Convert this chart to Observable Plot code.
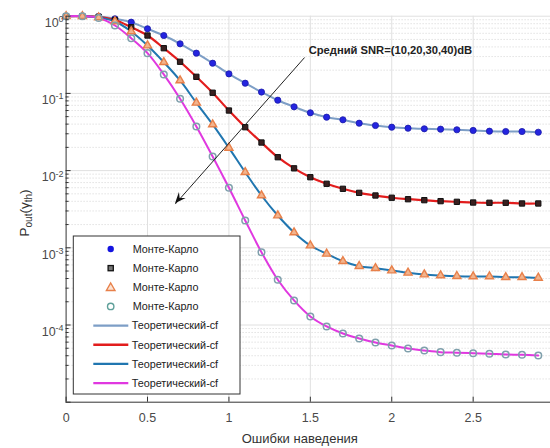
<!DOCTYPE html>
<html><head><meta charset="utf-8">
<script src="https://cdn.jsdelivr.net/npm/d3@7"></script>
<script src="https://cdn.jsdelivr.net/npm/@observablehq/plot@0.6"></script>
<style>body{margin:0;background:#fff;font-family:"Liberation Sans",Arial,sans-serif}</style>
</head><body><div id="chart"></div><script>
// ---- data ----
const errors = [0,0.1,0.2,0.3,0.4,0.5,0.6,0.7,0.8,0.9,1.0,1.1,1.2,1.3,1.4,1.5,1.6,1.7,1.8,1.9,2.0,2.1,2.2,2.3,2.4,2.5,2.6,2.7,2.8,2.9];
const snr10 = [1,1,0.991,0.925,0.836,0.687,0.562,0.439,0.332,0.246,0.179,0.1355,0.104,0.0816,0.067,0.0561,0.0492,0.0455,0.0411,0.0384,0.0365,0.0354,0.0348,0.0344,0.0338,0.0331,0.0324,0.0321,0.0321,0.0314];
const snr20 = [1,1,0.982,0.893,0.72,0.562,0.385,0.257,0.164,0.102,0.060,0.0365,0.0231,0.0149,0.0107,0.00821,0.00675,0.00581,0.00515,0.00476,0.00445,0.00426,0.00414,0.00402,0.00394,0.00386,0.00383,0.00383,0.00375,0.00375];
const snr30 = [1,1,0.962,0.854,0.634,0.417,0.2536,0.147,0.0755,0.0396,0.0197,0.00953,0.00476,0.00262,0.00158,0.00107,0.000836,0.00067,0.000578,0.000544,0.000508,0.000474,0.000451,0.000438,0.000429,0.000425,0.000425,0.000416,0.000416,0.000408];
const snr40 = [1,1,0.948,0.758,0.519,0.332,0.176,0.0851,0.0373,0.01523,0.00599,0.00226,0.000877,0.000385,0.000208,0.000129,0.0000957,0.0000776,0.0000669,0.0000593,0.0000543,0.0000497,0.0000468,0.0000445,0.0000437,0.0000431,0.0000424,0.0000415,0.0000411,0.0000403];
const mcLabel = "Монте-Карло";
const theoryLabel = "Теоретический-cf";
const xTicks = [0,0.5,1,1.5,2,2.5];
const yTicks = [1,0.1,0.01,0.001,0.0001];
const xLabel = "Ошибки наведения";
const annotationText = "Средний SNR=(10,20,30,40)dB";
const annotationPos = [{x:1.49, y:0.36}];
const arrowData = [{x1:1.463, y1:0.289, x2:0.672, y2:0.00372}];

// ---- styles ----
const lineColors = ["#7d9ec6","#e21d1d","#2076b0","#e038e0"];
const series = [snr10, snr20, snr30, snr40];
const rows = [];
series.forEach((s,k)=>s.forEach((v,i)=>rows.push({k, x:errors[i], y:v})));
const sub = k => rows.filter(d=>d.k===k);

const W=550,H=448,mL=65.6,mT=15.7,mB=46.3,mR=0;
const pw=W-mL-mR, ph=H-mT-mB;
const minorY = [];
for (let e=-5;e<0;e++) for (let m=2;m<=9;m++) minorY.push(m*Math.pow(10,e));
const allMajorY = [1,0.1,0.01,0.001,0.0001,0.00001];

const chart = Plot.plot({
  width:W, height:H, marginLeft:mL, marginTop:mT, marginBottom:mB, marginRight:mR,
  style:{fontFamily:'"Liberation Sans",Arial,sans-serif', fontSize:"12.5px", color:"#4a4a4a", background:"#fff", overflow:"visible"},
  x:{domain:[0,2.975]},
  y:{type:"log", domain:[1e-5,1]},
  marks:[
    Plot.ruleY(minorY,{stroke:"#cfcfcf", strokeDasharray:"1,2", strokeWidth:0.9}),
    Plot.ruleY(yTicks,{stroke:"#e0e0e0", strokeWidth:1}),
    Plot.ruleX(xTicks.filter(d=>d>0),{stroke:"#e0e0e0", strokeWidth:1}),
    Plot.line(sub(0),{x:"x",y:"y",stroke:lineColors[0],strokeWidth:2,curve:"catmull-rom"}),
    Plot.line(sub(1),{x:"x",y:"y",stroke:lineColors[1],strokeWidth:2.2,curve:"catmull-rom"}),
    Plot.line(sub(2),{x:"x",y:"y",stroke:lineColors[2],strokeWidth:2,curve:"catmull-rom"}),
    Plot.line(sub(3),{x:"x",y:"y",stroke:lineColors[3],strokeWidth:2,curve:"catmull-rom"}),
    Plot.dot(sub(0),{x:"x",y:"y",r:3.1,fill:"#2424e0",stroke:"#1a1aa8",strokeWidth:0.8}),
    Plot.dot(sub(1),{x:"x",y:"y",r:3,symbol:"square",fill:"#3a2020",stroke:"#111",strokeWidth:1}),
    Plot.dot(sub(2),{x:"x",y:"y",r:3,symbol:"triangle",fill:"#f2b48e",stroke:"#e8804a",strokeWidth:1.4}),
    Plot.dot(sub(3),{x:"x",y:"y",r:3.3,fill:"none",stroke:"#7fa0ac",strokeWidth:1.5}),
    Plot.ruleX([0],{stroke:"#333",strokeWidth:1}),
    Plot.ruleY([1e-5],{stroke:"#333",strokeWidth:1}),
    Plot.tickY(allMajorY,{stroke:"#333",insetRight:pw-5}),
    Plot.tickY(minorY,{stroke:"#333",insetRight:pw-3}),
    Plot.tickX(xTicks,{stroke:"#333",insetTop:ph-5}),
    Plot.axisX(xTicks,{tickSize:0,tickPadding:10.5,label:null,tickFormat:d=>String(d),fill:"#4a4a4a"}),
    Plot.axisY(yTicks,{tickSize:0,tickPadding:2.5,label:null,tickFormat:d=>"10^"+Math.round(Math.log10(d)),fill:"#4a4a4a"}),
    Plot.arrow(arrowData,{x1:"x1",y1:"y1",x2:"x2",y2:"y2",stroke:"#222",strokeWidth:1,headLength:0}),
    Plot.text(annotationPos,{x:"x",y:"y",text:()=>annotationText,textAnchor:"start",fontWeight:"bold",fontSize:11.2,fill:"#222"})
  ]
});
document.getElementById("chart").appendChild(chart);
const svg = d3.select(chart);

// superscript y tick labels
svg.selectAll('g[aria-label="y-axis tick label"] text').each(function(){
  const t = d3.select(this); const s = t.text(); const exp = s.split("^")[1];
  t.text(""); t.attr("dy","0.55em");
  t.append("tspan").text("10");
  t.append("tspan").attr("dy","-0.55em").attr("font-size","9px").text(exp);
});

// filled arrow head at the arrow end, positioned through the plot's scales
const sx = chart.scale("x"), sy = chart.scale("y");
const a = arrowData[0];
const X1=sx.apply(a.x1), Y1=sy.apply(a.y1), X2=sx.apply(a.x2), Y2=sy.apply(a.y2);
const ang = Math.atan2(Y2-Y1, X2-X1);
const L=11, Wd=4.5, notch=7;
const p = (d,o)=>[X2 - d*Math.cos(ang) - o*Math.sin(ang), Y2 - d*Math.sin(ang) + o*Math.cos(ang)];
const head=[[X2,Y2],p(L,Wd),p(notch,0),p(L,-Wd)];
svg.append("path").attr("d","M"+head.map(q=>q.join(",")).join("L")+"Z").attr("fill","#111");

// x label
svg.append("text").attr("x",mL+(550-mL)/2-8).attr("y",443).attr("text-anchor","middle")
  .attr("font-size","13px").attr("fill","#333").text(xLabel);

// y label P_out(γ_th)
const yl = svg.append("text").attr("transform","translate(29,213) rotate(-90)").attr("text-anchor","middle")
  .attr("font-size","13.5px").attr("fill","#333");
yl.append("tspan").text("P");
yl.append("tspan").attr("dy","3").attr("font-size","10px").text("out");
yl.append("tspan").attr("dy","-3").text("(");
yl.append("tspan").text("γ");
yl.append("tspan").attr("dy","3").attr("font-size","10px").text("th");
yl.append("tspan").attr("dy","-3").text(")");

// legend
const lg = svg.append("g").attr("text-anchor","start");
lg.append("rect").attr("x",73.3).attr("y",236).attr("width",166.7).attr("height",158)
  .attr("fill","#fff").attr("stroke","#333").attr("stroke-width",1);
const rowY = i => 249 + i*19.15;
const mx = 110.7;
lg.append("circle").attr("cx",mx).attr("cy",rowY(0)).attr("r",3.2).attr("fill","#1414e0");
lg.append("rect").attr("x",mx-2.6).attr("y",rowY(1)-2.6).attr("width",5.2).attr("height",5.2).attr("fill","#777").attr("stroke","#111").attr("stroke-width",1.3);
lg.append("path").attr("d",`M${mx},${rowY(2)-4.3}L${mx+4.3},${rowY(2)+3.2}L${mx-4.3},${rowY(2)+3.2}Z`).attr("fill","#fbe3d3").attr("stroke","#e8804a").attr("stroke-width",1.4);
lg.append("circle").attr("cx",mx).attr("cy",rowY(3)).attr("r",3.2).attr("fill","none").attr("stroke","#5fa09a").attr("stroke-width",1.4);
for (let i=0;i<4;i++){
  lg.append("text").attr("x",132.7).attr("y",rowY(i)).attr("dy","0.36em").attr("text-anchor","start").attr("font-size","10.8px").attr("fill","#222").text(mcLabel);
  lg.append("line").attr("x1",93.3).attr("x2",128.3).attr("y1",rowY(4+i)).attr("y2",rowY(4+i)).attr("stroke",lineColors[i]).attr("stroke-width",2.3);
  lg.append("text").attr("x",131.7).attr("y",rowY(4+i)).attr("dy","0.36em").attr("text-anchor","start").attr("font-size","10.8px").attr("fill","#222").text(theoryLabel);
}
</script></body></html>
